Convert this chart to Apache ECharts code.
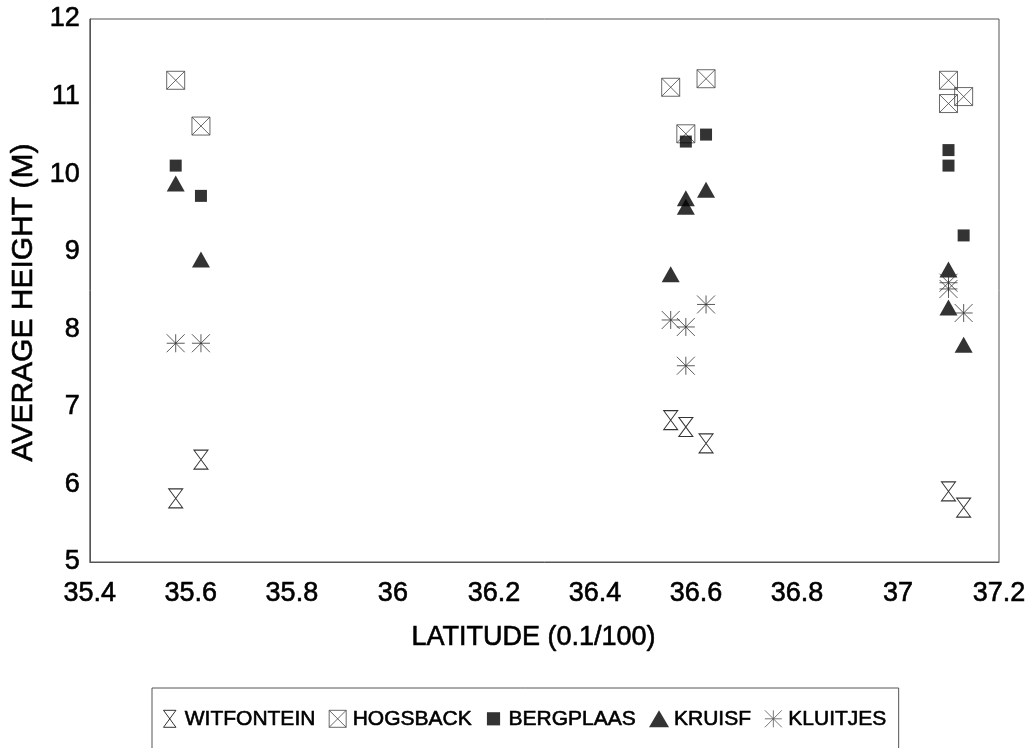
<!DOCTYPE html>
<html>
<head>
<meta charset="utf-8">
<script src="https://cdn.jsdelivr.net/npm/echarts@6/dist/echarts.min.js"></script>
<style>
html,body{margin:0;padding:0;background:#fff;}
#c{width:1036px;height:748px;}
</style>
</head>
<body>
<div id="c"></div>
<script>
var seriesNames = ['WITFONTEIN', 'HOGSBACK', 'BERGPLAAS', 'KRUISF', 'KLUITJES'];
var xTicks = { min: 35.4, max: 37.2, step: 0.2 };
var yTicks = { min: 5, max: 12, step: 1 };

var witX = [35.57, 35.62, 36.55, 36.58, 36.62, 37.10, 37.13];
var witY = [5.82, 6.32, 6.83, 6.74, 6.53, 5.91, 5.70];
var hogX = [35.57, 35.62, 36.55, 36.58, 36.62, 37.10, 37.10, 37.13];
var hogY = [11.21, 10.62, 11.12, 10.52, 11.23, 11.21, 10.91, 11.00];
var bergX = [35.57, 35.62, 36.58, 36.62, 37.10, 37.10, 37.13];
var bergY = [10.11, 9.72, 10.42, 10.51, 10.31, 10.11, 9.21];
var kruX = [35.57, 35.62, 36.55, 36.58, 36.58, 36.62, 37.10, 37.10, 37.13];
var kruY = [9.88, 8.90, 8.71, 9.69, 9.58, 9.80, 8.77, 8.28, 7.80];
var kluX = [35.57, 35.62, 36.55, 36.58, 36.58, 36.62, 37.10, 37.10, 37.13];
var kluY = [7.82, 7.82, 8.12, 8.03, 7.53, 8.32, 8.60, 8.52, 8.21];

function pairs(xs, ys) { return xs.map(function (x, i) { return [x, ys[i]]; }); }

var symHour = 'path://M0,0 L11,0 L0,15 L11,15 Z';
var symBoxX = 'path://M0,0 L10,0 L10,10 L0,10 Z M0,0 L10,10 M10,0 L0,10';
var symStar = 'path://M0,7.5 L15,7.5 M7.5,0 L7.5,15 M0,0 L15,15 M15,0 L0,15';
var legSquare = 'path://M0,0 L0,0 M1.8,1.8 L14.2,1.8 L14.2,14.2 L1.8,14.2 Z M16,16 L16,16';

var outline = function (c) { return { color: 'rgba(0,0,0,0)', borderColor: c, borderWidth: 1 }; };

var font = 'Liberation Sans';
var thick = { textBorderColor: '#000', textBorderWidth: 0.6 };
function ts(size) { return Object.assign({ fontFamily: font, fontSize: size, color: '#000' }, thick); }

var chart = echarts.init(document.getElementById('c'), null, { renderer: 'canvas' });
chart.setOption({
  backgroundColor: '#fff',
  animation: false,
  grid: { left: 88, right: 37, top: 19, bottom: 186, show: true, borderColor: '#555', borderWidth: 1, containLabel: false },
  legend: {
    left: 152, top: 688,
    padding: [20, 12, 60, 11],
    borderColor: '#555', borderWidth: 1,
    itemWidth: 20, itemHeight: 17, itemGap: 13,
    textStyle: ts(21),
    data: [
      { name: seriesNames[0], icon: symHour, itemStyle: outline('#000') },
      { name: seriesNames[1], icon: symBoxX, itemStyle: outline('#444') },
      { name: seriesNames[2], icon: legSquare, itemStyle: { color: '#000', borderWidth: 0 } },
      { name: seriesNames[3], icon: 'triangle' },
      { name: seriesNames[4], icon: symStar, itemStyle: outline('#555') }
    ]
  },
  xAxis: {
    type: 'value', min: xTicks.min, max: xTicks.max, interval: xTicks.step,
    name: 'LATITUDE (0.1/100)', nameLocation: 'middle', nameGap: 62,
    nameTextStyle: Object.assign(ts(27), { padding: [0, 22, 0, 0] }),
    axisLine: { show: true, lineStyle: { color: '#555', width: 1 } },
    axisTick: { show: false },
    splitLine: { show: false },
    axisLabel: Object.assign(ts(27), { margin: 18,
      formatter: function (v) { return String(+v.toFixed(1)); } })
  },
  yAxis: {
    type: 'value', min: yTicks.min, max: yTicks.max, interval: yTicks.step,
    name: 'AVERAGE HEIGHT (M)', nameLocation: 'middle', nameGap: 50,
    nameTextStyle: Object.assign(ts(30), { padding: [0, 24, 0, 0] }),
    axisLine: { show: true, lineStyle: { color: '#555', width: 1 } },
    axisTick: { show: false },
    splitLine: { show: false },
    axisLabel: Object.assign(ts(27), { margin: 10 })
  },
  series: [
    { name: seriesNames[0], type: 'scatter', symbol: symHour, symbolSize: [14, 19],
      itemStyle: outline('#000'), data: pairs(witX, witY) },
    { name: seriesNames[1], type: 'scatter', symbol: symBoxX, symbolSize: [18, 18],
      itemStyle: outline('#444'), data: pairs(hogX, hogY) },
    { name: seriesNames[2], type: 'scatter', symbol: 'rect', symbolSize: [12, 12],
      itemStyle: { color: '#000' }, data: pairs(bergX, bergY) },
    { name: seriesNames[3], type: 'scatter', symbol: 'triangle', symbolSize: [18, 16],
      itemStyle: { color: '#000' }, data: pairs(kruX, kruY) },
    { name: seriesNames[4], type: 'scatter', symbol: symStar, symbolSize: [18, 18],
      itemStyle: outline('#333'), data: pairs(kluX, kluY) }
  ]
});
</script>
</body>
</html>
